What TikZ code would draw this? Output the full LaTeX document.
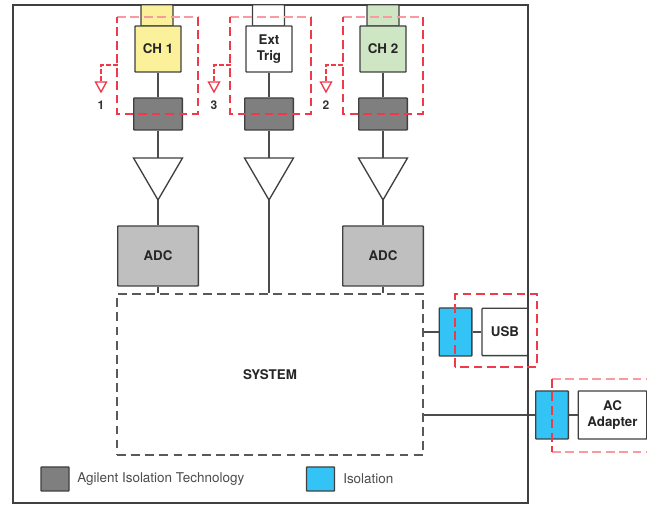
\documentclass[tikz,border=0pt]{standalone}
\usepackage{fontspec}
\setmainfont{TeX Gyre Heros}
\tikzset{
 x=0.75pt,y=-0.75pt,
 frameln/.style={draw=black!75,line width=1.5pt},
 blk/.style={draw=black!75,line width=1pt,rounded corners=0.5pt,inner sep=0pt,align=center,font=\bfseries\fontsize{10}{12.5}\selectfont,text=black!85},
 iso/.style={blk,fill=isogray,minimum width=36.5pt,minimum height=24pt},
 blu/.style={blk,fill=isoblue,minimum width=24.5pt,minimum height=36pt},
 chbox/.style={blk,minimum width=34.5pt,minimum height=34.5pt},
 topbox/.style={blk,minimum width=24pt,minimum height=16pt},
 adc/.style={blk,fill=adcgray,minimum width=60.5pt,minimum height=45pt},
 wire/.style={draw=black!70,line width=1pt},
 amp/.style={draw=black!75,line width=1pt,fill=white,line join=miter},
 reddash/.style={draw=redd,line width=1pt,dash pattern=on 6.5pt off 3.6pt},
 redpale/.style={draw=redp,line width=1pt,dash pattern=on 6.5pt off 3.6pt},
 sysbox/.style={draw=black!65,line width=1pt,dash pattern=on 6.6pt off 4pt},
 lbl/.style={inner sep=0pt,font=\bfseries\fontsize{9}{10}\selectfont,text=black!80},
 leg/.style={inner sep=0pt,anchor=west,font=\fontsize{10.1}{12}\selectfont,text=black!70},
 gnd/.style={draw=redd,line width=1pt},
 gnddash/.style={draw=redd,line width=1pt,dash pattern=on 3.6pt off 1.6pt},
}
\definecolor{isogray}{HTML}{7F7F7F}
\definecolor{isoblue}{HTML}{33C4F5}
\definecolor{adcgray}{HTML}{BFBFBF}
\definecolor{chyellow}{HTML}{FBF19B}
\definecolor{chgreen}{HTML}{CFE6C4}
\definecolor{redd}{HTML}{EE3A4A}
\definecolor{redp}{HTML}{F99AA0}
\begin{document}
\begin{tikzpicture}
\useasboundingbox (0,0) rectangle (647,505);
\fill[white] (0,0) rectangle (647,505);
\draw[frameln] (12.5,5) rectangle (528,503);
% system
\node[sysbox,minimum width=229.5pt,minimum height=120.75pt,inner sep=0pt,font=\bfseries\fontsize{10}{12}\selectfont,text=black!85] (sys) at (270,374.5) {SYSTEM};
% channel stacks
\node[topbox,fill=chyellow] (t1) at (157,15.5) {};
\node[topbox,fill=white] (t3) at (268.5,15.5) {};
\node[topbox,fill=chgreen] (t2) at (383,15.5) {};
\node[chbox,fill=chyellow] (c1) at (158,49) {CH 1};
\node[chbox,fill=white] (c3) at (269,49) {Ext\\Trig};
\node[chbox,fill=chgreen] (c2) at (383,49) {CH 2};
\node[iso] (i1) at (158,114) {};
\node[iso] (i3) at (269,114) {};
\node[iso] (i2) at (383,114) {};
\coordinate (a1t) at (158,158); \coordinate (a1b) at (158,200);
\coordinate (a3t) at (269,158); \coordinate (a3b) at (269,200);
\coordinate (a2t) at (383,158); \coordinate (a2b) at (383,200);
\node[adc] (adc1) at (158,256) {ADC};
\node[adc] (adc2) at (383,256) {ADC};
\foreach \n in {1,3,2}{
  \draw[wire] (c\n) -- (i\n);
  \draw[wire] (i\n) -- (a\n t);
}
\draw[amp] (133.5,158) -- (182.5,158) -- (a1b) -- cycle;
\draw[amp] (244.5,158) -- (293.5,158) -- (a3b) -- cycle;
\draw[amp] (358.5,158) -- (407.5,158) -- (a2b) -- cycle;
\draw[wire] (a1b) -- (adc1);
\draw[wire] (a2b) -- (adc2);
\draw[wire] (adc1.south) -- (adc1.south |- sys.north);
\draw[wire] (adc2.south) -- (adc2.south |- sys.north);
\draw[wire] (a3b) -- (a3b |- sys.north);
% usb, ac
\node[blu] (bu) at (455.5,332) {};
\node[blk,fill=white,minimum width=34.5pt,minimum height=35.5pt] (usb) at (505,332) {USB};
\node[blu] (ba) at (552,415) {};
\node[blk,fill=white,minimum width=51.5pt,minimum height=36pt] (ac) at (612.5,415) {AC\\Adapter};
\draw[wire] (sys.east |- bu) -- (bu);
\draw[wire] (bu) -- (usb);
\draw[wire] (sys.east |- ba) -- (ba);
\draw[wire] (ba) -- (ac);
\draw[frameln] (528,5) -- (528,503);
% red isolation outlines
\draw[redpale] (117,17) -- (198,17);
\draw[reddash] (198,17) -- (198,114) -- (117,114) -- (117,17);
\draw[redpale] (230,17) -- (311,17);
\draw[reddash] (311,17) -- (311,114) -- (230,114) -- (230,17);
\draw[redpale] (343,17) -- (423,17);
\draw[reddash] (423,17) -- (423,114) -- (343,114) -- (343,17);
\draw[reddash] (455,367) -- (455,294) -- (537,294) -- (537,367) -- cycle;
\draw[redpale] (552,379) -- (647,379);
\draw[redpale] (552,452) -- (647,452);
\draw[reddash] (552,379) -- (552,452);
% grounds
\foreach \x/\lab in {101/1,214/3,326/2}{
  \pgfmathsetmacro{\xr}{\x+16.5}
  \draw[gnddash] (\xr,65) -- (\x,65) -- (\x,82);
  \draw[gnd,fill=white] (\x-5.5,82) -- (\x+5.5,82) -- (\x,92) -- cycle;
  \node[lbl] (g\lab) at (\x,105) {\lab};
}
% legend
\node[blk,fill=isogray,minimum width=21pt,minimum height=18pt] (lg) at (55,479) {};
\node[leg] (lgt) at (77,479) {Agilent Isolation Technology};
\node[blk,fill=isoblue,minimum width=21pt,minimum height=18pt] (lb) at (320.5,479) {};
\node[leg] (lbt) at (343,479) {Isolation};
\end{tikzpicture}
\end{document}
